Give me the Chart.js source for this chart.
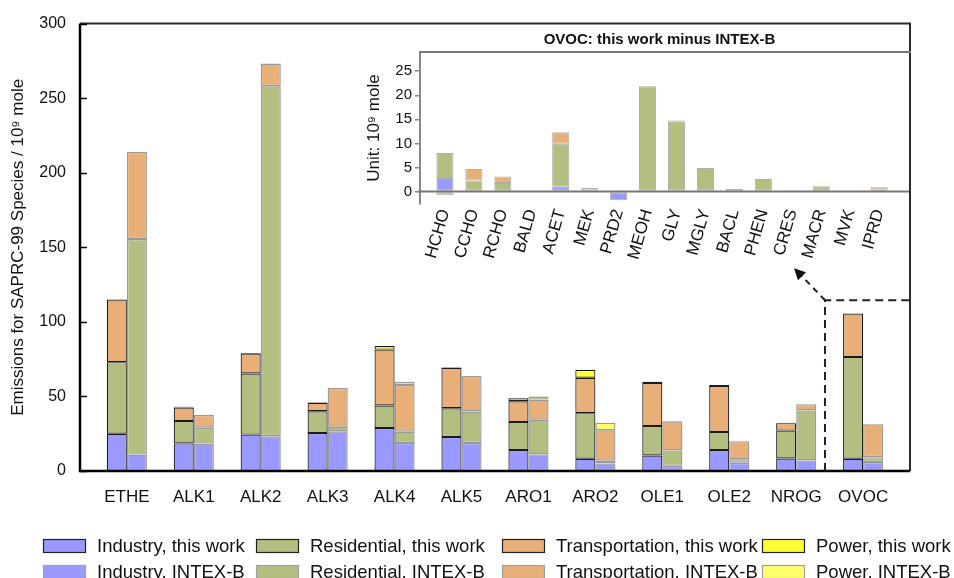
<!DOCTYPE html>
<html>
<head>
<meta charset="utf-8">
<script src="https://cdn.jsdelivr.net/npm/chart.js@4.4.1/dist/chart.umd.min.js"></script>
<style>
    body { margin: 0; background: #fff; }
    #wrap { position: relative; width: 954px; height: 578px; overflow: hidden; }
    #main { position: absolute; left: 0; top: 0; }
    #inset { position: absolute; left: 350px; top: 20px; }
</style>
</head>
<body>
<div id="wrap">
    <canvas id="main" width="954" height="578" style="width:954px;height:578px"></canvas>
    <canvas id="inset" width="565" height="262" style="width:565px;height:262px"></canvas>
</div>
<script>
// SAPRC-99 lumped species, emissions in 10^9 mole
const species = ['ETHE', 'ALK1', 'ALK2', 'ALK3', 'ALK4', 'ALK5', 'ARO1', 'ARO2', 'OLE1', 'OLE2', 'NROG', 'OVOC'];

const industryThis = [25, 18.5, 24.4, 25.5, 28.8, 22.8, 14, 8.2, 10.4, 14, 8.4, 8.2];
const residentialThis = [48, 15, 41, 14.6, 15.1, 19.3, 18.8, 30.6, 19.7, 12.2, 18.7, 68.3];
const transportThis = [42, 9, 13.3, 5.6, 37.5, 27.1, 14, 23.7, 28.9, 30.8, 5, 29.1];
const powerThis = [0, 0.5, 0.4, 0.4, 2.4, 0.4, 2, 5.4, 0.9, 0.7, 0.3, 0];

const industryIntex = [11, 18.4, 23.3, 26.6, 18.8, 18.8, 11.1, 5.1, 3.5, 5.5, 7.1, 6];
const residentialIntex = [144.5, 10.6, 234.7, 3.1, 7.6, 21.1, 23.3, 1.8, 10.3, 2.3, 33.5, 3.3];
const transportIntex = [58.5, 8.7, 15.2, 26, 31.3, 23.8, 13.5, 20.4, 19.5, 12.2, 4.2, 22];
const powerIntex = [0, 0, 0, 0, 2.2, 0, 2, 5.1, 0.3, 0, 0, 0];

const yTicksMain = [0, 50, 100, 150, 200, 250, 300];

// inset: OVOC, this work minus INTEX-B
const ovocSpecies = ['HCHO', 'CCHO', 'RCHO', 'BALD', 'ACET', 'MEK', 'PRD2', 'MEOH', 'GLY', 'MGLY', 'BACL', 'PHEN', 'CRES', 'MACR', 'MVK', 'IPRD'];
const ovocIndustry = [2.8, 0, 0, 0, 1.0, 0.15, -1.8, 0, 0, 0, 0, 0, 0, 0, 0, 0];
const ovocResidential = [5.2, 2.3, 1.75, 0, 8.9, 0.25, 0.2, 21.9, 14.6, 4.9, 0.5, 2.6, 0.1, 1.1, 0, 0.4];
const ovocTransport = [-0.8, 2.4, 1.35, 0, 2.4, 0.4, 0, 0, 0.15, 0, 0, 0, 0, 0, 0, 0.5];
const yTicksInset = [0, 5, 10, 15, 20, 25];

const FONT = "'Liberation Sans', Arial, sans-serif";
const colors = {
    industry: '#9999ff',
    residential: '#b3bf80',
    transport: '#e9af78',
    power: '#ffff33',
    powerIntex: '#ffff6a'
};

function pts(values) {
    return values.map((v, i) => ({ x: i, y: v }));
}

function barSet(label, values, color, stack) {
    const thisWork = stack === 'this';
    return {
        label: label,
        data: pts(values),
        backgroundColor: color,
        borderColor: thisWork ? '#1a1a1a' : 'rgba(120,120,120,0.75)',
        borderWidth: thisWork ? 1.2 : 1.4,
        borderSkipped: false,
        stack: stack,
        categoryPercentage: 0.6,
        barPercentage: 1.0
    };
}

// frame, inward ticks, dashed zoom box and legend for the main chart
const mainDecor = {
    id: 'mainDecor',
    afterDraw(chart) {
        const ctx = chart.ctx;
        const ca = chart.chartArea;
        const xs = chart.scales.x;
        const ys = chart.scales.y;
        ctx.save();

        ctx.strokeStyle = '#2a2a2a';
        ctx.lineWidth = 2;
        ctx.beginPath();
        ctx.moveTo(ca.left, ca.top);
        ctx.lineTo(ca.right, ca.top);
        ctx.lineTo(ca.right, ca.bottom);
        ctx.stroke();

        ctx.strokeStyle = '#000';
        ctx.lineWidth = 2.5;
        ctx.beginPath();
        ctx.moveTo(ca.left, ca.top);
        ctx.lineTo(ca.left, ca.bottom);
        ctx.lineTo(ca.right, ca.bottom);
        ctx.stroke();

        ctx.lineWidth = 1.5;
        ctx.beginPath();
        yTicksMain.forEach(t => {
            const py = Math.round(ys.getPixelForValue(t)) + 0.5;
            ctx.moveTo(ca.left, py);
            ctx.lineTo(ca.left + 7, py);
        });
        ctx.stroke();

        // dashed box around OVOC and arrow to the inset
        const bx = xs.getPixelForValue(10.43);
        const by = ys.getPixelForValue(114.5);
        ctx.strokeStyle = '#222';
        ctx.lineWidth = 2;
        ctx.setLineDash([8, 5]);
        ctx.beginPath();
        ctx.moveTo(bx, ca.bottom);
        ctx.lineTo(bx, by);
        ctx.lineTo(ca.right, by);
        ctx.stroke();
        ctx.setLineDash([6, 5]);
        ctx.beginPath();
        ctx.moveTo(bx, by);
        ctx.lineTo(bx - 24, by - 25);
        ctx.stroke();
        ctx.setLineDash([]);
        const tipX = bx - 31, tipY = by - 32;
        ctx.fillStyle = '#111';
        ctx.beginPath();
        ctx.moveTo(tipX, tipY);
        ctx.lineTo(tipX + 12, tipY + 4);
        ctx.lineTo(tipX + 4, tipY + 12);
        ctx.closePath();
        ctx.fill();

        // legend: row 1 this work, row 2 INTEX-B
        const cols = [43, 256, 502, 762];
        const rows = [539, 565];
        ctx.font = '18.5px ' + FONT;
        ctx.textBaseline = 'middle';
        ctx.textAlign = 'left';
        chart.data.datasets.forEach((ds, i) => {
            const cx = cols[i % 4];
            const cy = rows[Math.floor(i / 4)];
            ctx.fillStyle = ds.backgroundColor;
            ctx.fillRect(cx, cy, 43, 14);
            ctx.strokeStyle = i < 4 ? '#222' : '#a0a0a0';
            ctx.lineWidth = 1.2;
            ctx.strokeRect(cx + 0.5, cy + 0.5, 42, 13);
            ctx.fillStyle = '#111';
            ctx.fillText(ds.label, cx + 54, cy + 8);
        });
        ctx.restore();
    }
};

new Chart(document.getElementById('main').getContext('2d'), {
    type: 'bar',
    data: {
        datasets: [
            barSet('Industry, this work', industryThis, colors.industry, 'this'),
            barSet('Residential, this work', residentialThis, colors.residential, 'this'),
            barSet('Transportation, this work', transportThis, colors.transport, 'this'),
            barSet('Power, this work', powerThis, colors.power, 'this'),
            barSet('Industry, INTEX-B', industryIntex, colors.industry, 'intex'),
            barSet('Residential, INTEX-B', residentialIntex, colors.residential, 'intex'),
            barSet('Transportation, INTEX-B', transportIntex, colors.transport, 'intex'),
            barSet('Power, INTEX-B', powerIntex, colors.powerIntex, 'intex')
        ]
    },
    options: {
        responsive: false,
        animation: false,
        layout: { padding: { top: 19, right: 44, left: 0, bottom: 0 } },
        plugins: {
            legend: { display: false },
            tooltip: { enabled: false }
        },
        scales: {
            x: {
                type: 'linear',
                stacked: true,
                offset: false,
                min: -0.7,
                max: 11.7,
                afterBuildTicks: axis => { axis.ticks = species.map((s, i) => ({ value: i })); },
                afterFit: axis => { axis.height = 107; },
                ticks: {
                    autoSkip: false,
                    maxRotation: 0,
                    padding: 16,
                    color: '#111',
                    font: { family: FONT, size: 17 },
                    callback: v => species[v]
                },
                grid: { display: false, drawTicks: false, offset: false },
                border: { display: false }
            },
            y: {
                stacked: true,
                min: 0,
                max: 300,
                afterBuildTicks: axis => { axis.ticks = yTicksMain.map(v => ({ value: v })); },
                afterFit: axis => { axis.width = 80; },
                ticks: {
                    padding: 14,
                    color: '#111',
                    font: { family: FONT, size: 16 }
                },
                grid: { display: false, drawTicks: false },
                border: { display: false },
                title: {
                    display: true,
                    text: 'Emissions for SAPRC-99 Species / 10\u2079 mole',
                    color: '#111',
                    font: { family: FONT, size: 17 },
                    padding: { top: 8, bottom: 0 }
                }
            }
        }
    },
    plugins: [mainDecor]
});

// inset frame, zero line and title
const insetDecor = {
    id: 'insetDecor',
    afterDraw(chart) {
        const ctx = chart.ctx;
        const ca = chart.chartArea;
        const y0 = chart.scales.y.getPixelForValue(0);
        ctx.save();
        ctx.strokeStyle = '#777';
        ctx.lineWidth = 2;
        ctx.beginPath();
        ctx.moveTo(ca.left, ca.top);
        ctx.lineTo(ca.right + 2, ca.top);
        ctx.moveTo(ca.left - 2, y0);
        ctx.lineTo(ca.right, y0);
        ctx.stroke();
        ctx.fillStyle = '#111';
        ctx.font = 'bold 15px ' + FONT;
        ctx.textAlign = 'center';
        ctx.textBaseline = 'middle';
        ctx.fillText('OVOC: this work minus INTEX-B', (ca.left + ca.right) / 2 - 5, 20);
        ctx.restore();
    }
};

function insetSet(label, values, color) {
    return {
        label: label,
        data: pts(values),
        backgroundColor: color,
        borderColor: 'rgba(110,110,110,0.55)',
        borderWidth: 1,
        borderSkipped: false,
        stack: 'diff',
        categoryPercentage: 0.59,
        barPercentage: 1.0
    };
}

new Chart(document.getElementById('inset').getContext('2d'), {
    type: 'bar',
    data: {
        datasets: [
            insetSet('Industry', ovocIndustry, colors.industry),
            insetSet('Residential', ovocResidential, colors.residential),
            insetSet('Transportation', ovocTransport, colors.transport)
        ]
    },
    options: {
        responsive: false,
        animation: false,
        layout: { padding: { top: 32, right: 6, left: 0, bottom: 0 } },
        plugins: {
            legend: { display: false },
            tooltip: { enabled: false }
        },
        scales: {
            x: {
                type: 'linear',
                stacked: true,
                offset: false,
                min: -0.86,
                max: 16.03,
                afterBuildTicks: axis => { axis.ticks = ovocSpecies.map((s, i) => ({ value: i })); },
                afterFit: axis => { axis.height = 78; },
                ticks: {
                    autoSkip: false,
                    minRotation: 74,
                    maxRotation: 74,
                    padding: 3,
                    color: '#111',
                    font: { family: FONT, size: 17 },
                    callback: v => ovocSpecies[v]
                },
                grid: { display: false, drawTicks: false, offset: false },
                border: { display: false }
            },
            y: {
                stacked: true,
                min: -2.6,
                max: 29,
                afterBuildTicks: axis => { axis.ticks = yTicksInset.map(v => ({ value: v })); },
                afterFit: axis => { axis.width = 70; },
                ticks: {
                    padding: 3,
                    color: '#111',
                    font: { family: FONT, size: 15 }
                },
                grid: { drawOnChartArea: false, tickLength: 5, color: '#888', lineWidth: 1.5 },
                border: { display: true, color: '#888', width: 2 },
                title: {
                    display: true,
                    text: 'Unit: 10\u2079 mole',
                    color: '#111',
                    font: { family: FONT, size: 17 },
                    padding: { top: 14, bottom: 0 }
                }
            }
        }
    },
    plugins: [insetDecor]
});
</script>
</body>
</html>
